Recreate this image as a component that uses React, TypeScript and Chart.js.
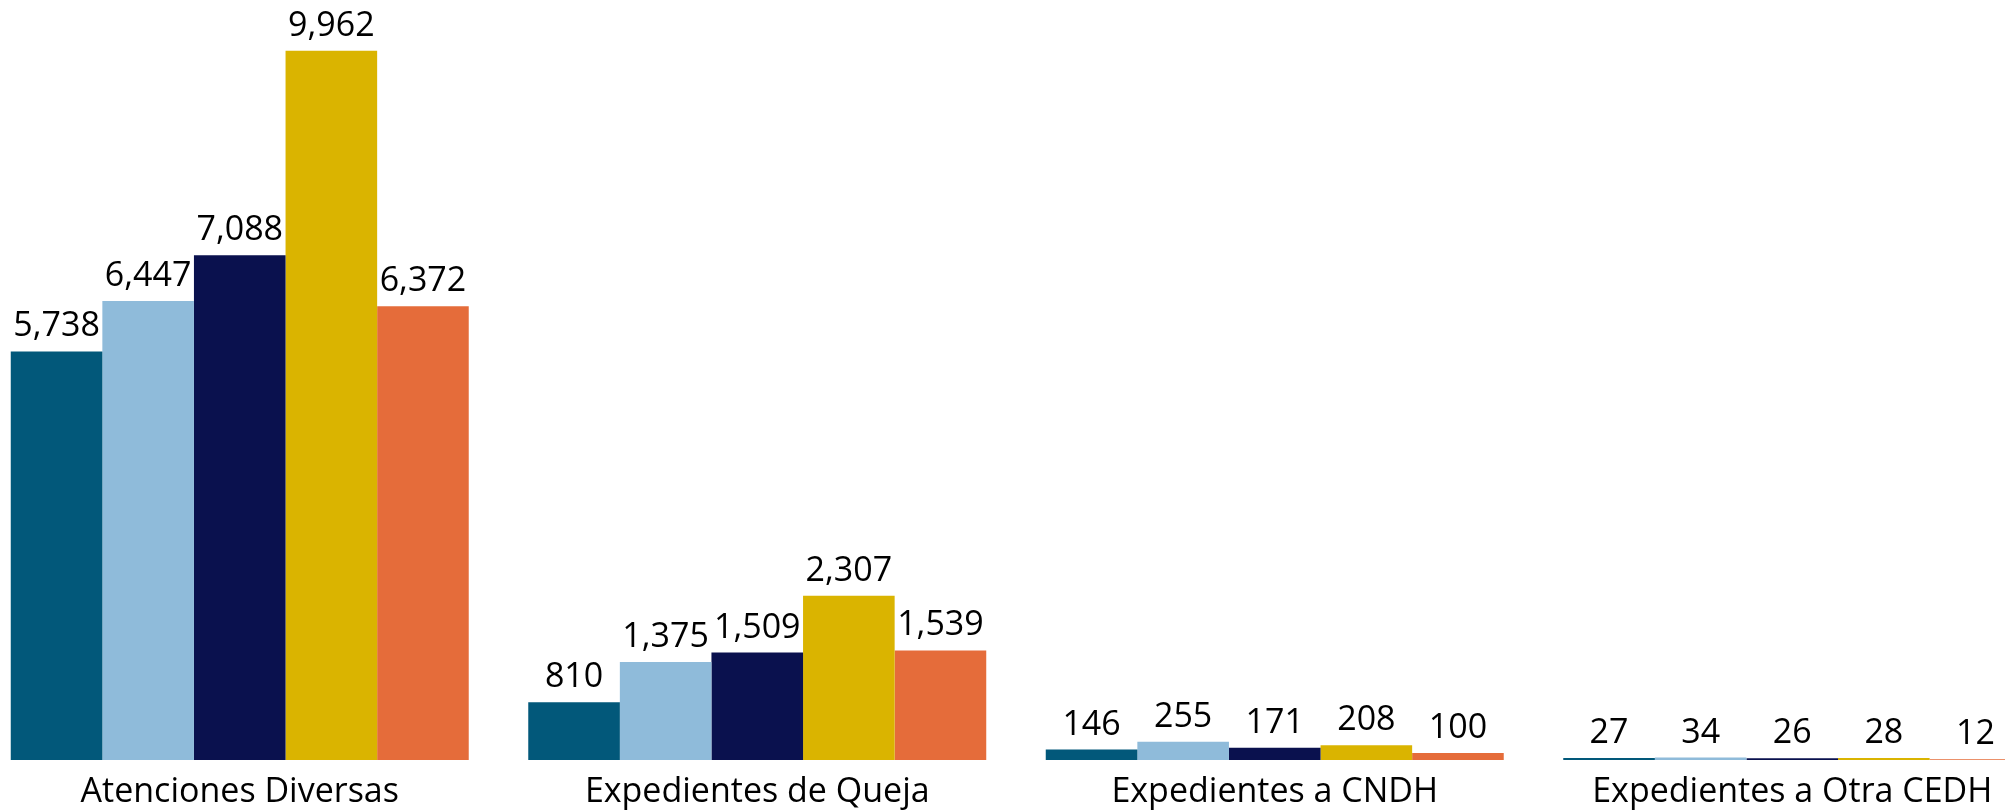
import React, { useEffect, useRef } from "react";
import { Chart, registerables } from "chart.js";

Chart.register(...registerables);

const categories = [
  "Atenciones Diversas",
  "Expedientes de Queja",
  "Expedientes a CNDH",
  "Expedientes a Otra CEDH",
];
const seriesNames = ["Serie 1", "Serie 2", "Serie 3", "Serie 4", "Serie 5"];
const serie1 = [5738, 810, 146, 27];
const serie2 = [6447, 1375, 255, 34];
const serie3 = [7088, 1509, 171, 26];
const serie4 = [9962, 2307, 208, 28];
const serie5 = [6372, 1539, 100, 12];
const seriesColors = ["#02587A", "#8FBBDA", "#0A114E", "#DAB400", "#E56C3A"];

const FONT = "'Open Sans', sans-serif";

const valueLabels = {
  id: "valueLabels",
  afterDatasetsDraw(chart: any) {
    const ctx = chart.ctx;
    ctx.save();
    ctx.font = `34px ${FONT}`;
    ctx.fillStyle = "#000000";
    ctx.textAlign = "center";
    ctx.textBaseline = "alphabetic";
    chart.data.datasets.forEach((ds: any, di: number) => {
      const meta = chart.getDatasetMeta(di);
      meta.data.forEach((bar: any, i: number) => {
        const v = ds.data[i] as number;
        ctx.fillText(v.toLocaleString("en-US"), bar.x, bar.y - 15);
      });
    });
    ctx.restore();
  },
};

export default function App() {
  const ref = useRef<HTMLCanvasElement>(null);
  useEffect(() => {
    if (!ref.current) return;
    const all = [serie1, serie2, serie3, serie4, serie5];
    const chart = new Chart(ref.current, {
      type: "bar",
      data: {
        labels: categories,
        datasets: all.map((d, i) => ({
          label: seriesNames[i],
          data: d,
          backgroundColor: seriesColors[i],
          borderWidth: 0,
          categoryPercentage: 0.885,
          barPercentage: 1.0,
        })),
      },
      options: {
        animation: false,
        responsive: true,
        maintainAspectRatio: false,
        layout: { padding: { top: 48, bottom: 0, left: 0, right: 0 } },
        plugins: { legend: { display: false }, tooltip: { enabled: false } },
        scales: {
          x: {
            grid: { display: false, drawTicks: false },
            border: { display: false },
            ticks: {
              color: "#000000",
              font: { family: FONT, size: 34 },
              padding: 12,
              maxRotation: 0,
              autoSkip: false,
            },
            afterFit: (scale: any) => {
              scale.height = 51;
            },
          },
          y: {
            display: false,
            min: 0,
            max: 10000,
          },
        },
      },
      plugins: [valueLabels],
    });
    return () => chart.destroy();
  }, []);
  return (
    <div
      style={{
        position: "fixed",
        left: 0,
        top: 0,
        width: 2005,
        height: 811,
        overflow: "hidden",
        background: "#fff",
      }}
    >
      <div style={{ position: "absolute", left: -19, top: 0, width: 2070, height: 811 }}>
        <canvas ref={ref} />
      </div>
    </div>
  );
}
